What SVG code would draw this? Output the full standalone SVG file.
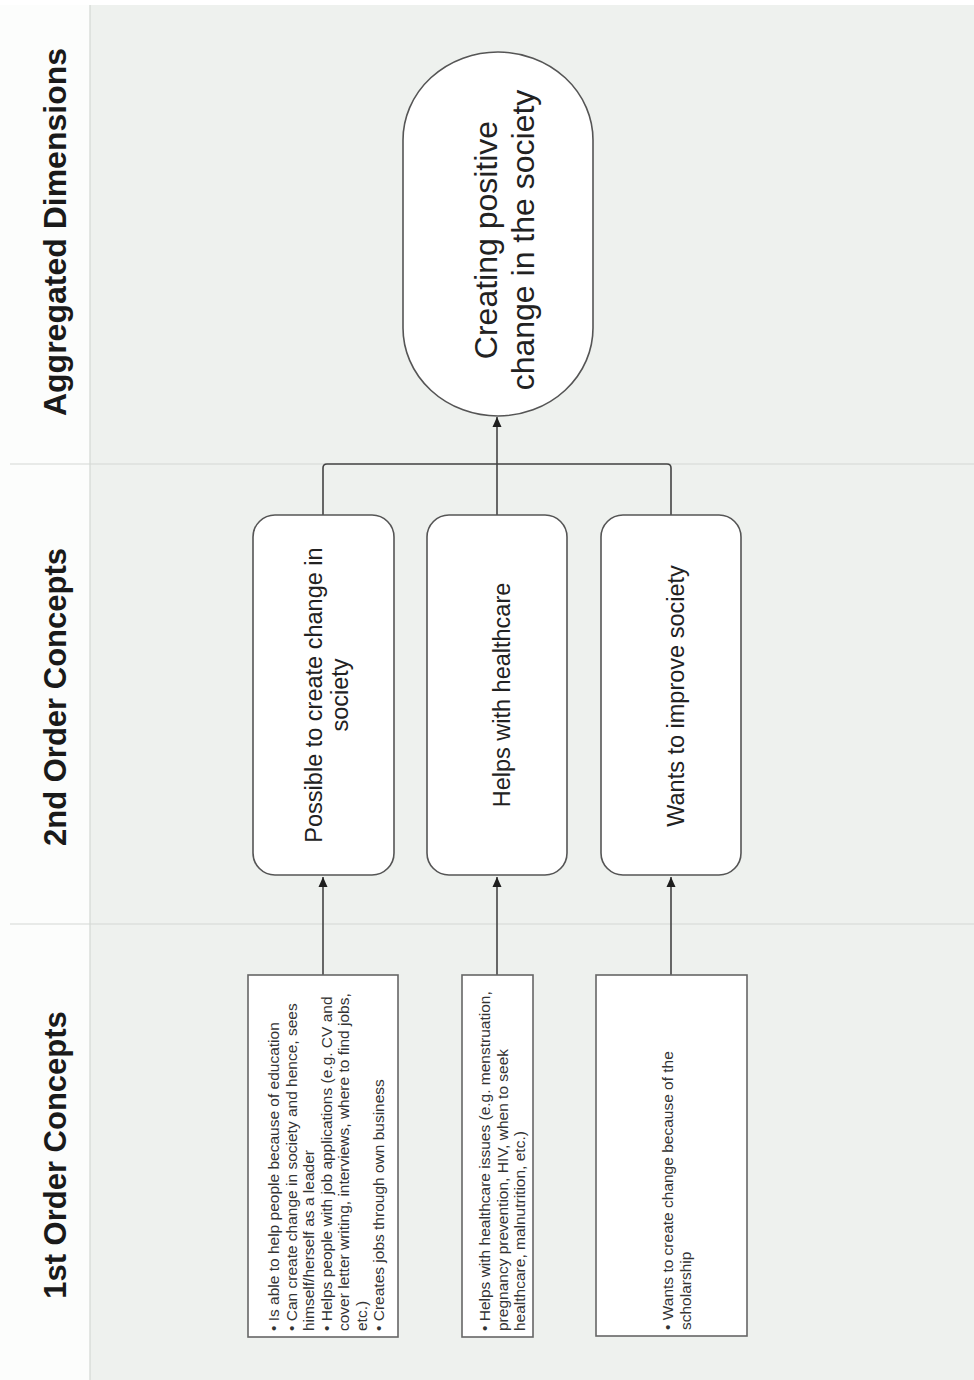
<svg xmlns="http://www.w3.org/2000/svg" width="974" height="1380" viewBox="0 0 974 1380">
  <style>
    .band { fill: #eef1ee; }
    .strip { fill: #fcfdfc; }
    .sep { stroke: #d3d8d3; stroke-width: 1.2; fill: none; }
    .head { font-family: "Liberation Sans", Arial, sans-serif; font-weight: bold; font-size: 31px; fill: #1a1a1a; }
    .big { font-family: "Liberation Sans", Arial, sans-serif; font-size: 32px; fill: #222; }
    .mid { font-family: "Liberation Sans", Arial, sans-serif; font-size: 23.5px; fill: #222; }
    .small { font-family: "Liberation Sans", Arial, sans-serif; font-size: 15.5px; fill: #333; }
    .rbox { fill: #ffffff; stroke: #555; stroke-width: 1.6; }
    .sbox { fill: #ffffff; stroke: #666; stroke-width: 1.6; }
    .edge { fill: none; stroke: #444; stroke-width: 1.6; }
  </style>
  <defs>
    <marker id="arrow" markerUnits="userSpaceOnUse" markerWidth="10" markerHeight="10" viewBox="0 0 10 10" refX="10" refY="5" orient="auto">
      <path d="M0,0.5 L10,5 L0,9.5 Z" fill="#1e1e1e"/>
    </marker>
  </defs>

  <!-- background bands -->
  <rect x="0" y="0" width="974" height="1380" fill="#ffffff"/>
  <rect class="strip" x="0" y="5" width="90" height="1375"/>
  <rect class="band" x="90" y="5" width="884" height="1375"/>
  <line class="sep" x1="90" y1="5" x2="90" y2="1380"/>
  <line class="sep" x1="10" y1="464" x2="974" y2="464"/>
  <line class="sep" x1="10" y1="924" x2="974" y2="924"/>

  <!-- column headings -->
  <g id="heading-aggregated">
    <text class="head" style="font-size:32px" transform="translate(66,232) rotate(-90)" text-anchor="middle">Aggregated Dimensions</text>
  </g>
  <g id="heading-second">
    <text class="head" transform="translate(66,697) rotate(-90)" text-anchor="middle">2nd Order Concepts</text>
  </g>
  <g id="heading-first">
    <text class="head" transform="translate(66,1155) rotate(-90)" text-anchor="middle">1st Order Concepts</text>
  </g>

  <!-- connectors -->
  <g id="connectors">
    <path class="edge" d="M323,975 V877" marker-end="url(#arrow)"/>
    <path class="edge" d="M497,975 V877" marker-end="url(#arrow)"/>
    <path class="edge" d="M671,975 V877" marker-end="url(#arrow)"/>
    <path class="edge" d="M323,515 V468 Q323,464 327,464 H667 Q671,464 671,468 V515"/>
    <path class="edge" d="M497,515 V417" marker-end="url(#arrow)"/>
  </g>

  <!-- aggregated dimension -->
  <g id="node-positive-change">
    <rect class="rbox" x="403" y="52" width="190" height="364" rx="95" ry="88"/>
    <text class="big" transform="translate(497,240) rotate(-90)" text-anchor="middle">Creating positive</text>
    <text class="big" transform="translate(534,240) rotate(-90)" text-anchor="middle">change in the society</text>
  </g>

  <!-- second order concepts -->
  <g id="node-possible-change">
    <rect class="rbox" x="253" y="515" width="141" height="360" rx="22" ry="22"/>
    <text class="mid" transform="translate(322,695) rotate(-90)" text-anchor="middle">Possible to create change in</text>
    <text class="mid" transform="translate(348,695) rotate(-90)" text-anchor="middle">society</text>
  </g>
  <g id="node-healthcare">
    <rect class="rbox" x="427" y="515" width="140" height="360" rx="22" ry="22"/>
    <text class="mid" transform="translate(510,695) rotate(-90)" text-anchor="middle">Helps with healthcare</text>
  </g>
  <g id="node-improve-society">
    <rect class="rbox" x="601" y="515" width="140" height="360" rx="22" ry="22"/>
    <text class="mid" transform="translate(684,696) rotate(-90)" text-anchor="middle">Wants to improve society</text>
  </g>

  <!-- first order concepts -->
  <g id="node-education-items">
    <rect class="sbox" x="248" y="975" width="150" height="362"/>
    <g transform="translate(0,1331) rotate(-90)">
      <text class="small" x="0" y="279">• Is able to help people because of education</text>
      <text class="small" x="0" y="296.5">• Can create change in society and hence, sees</text>
      <text class="small" x="0" y="314">himself/herself as a leader</text>
      <text class="small" x="0" y="331.5">• Helps people with job applications (e.g. CV and</text>
      <text class="small" x="0" y="349">cover letter writing, interviews, where to find jobs,</text>
      <text class="small" x="0" y="366.5">etc.)</text>
      <text class="small" x="0" y="384">• Creates jobs through own business</text>
    </g>
  </g>
  <g id="node-healthcare-items">
    <rect class="sbox" x="462" y="975" width="71" height="362"/>
    <g transform="translate(0,1331) rotate(-90)">
      <text class="small" x="0" y="490">• Helps with healthcare issues (e.g. menstruation,</text>
      <text class="small" x="0" y="507.5">pregnancy prevention, HIV, when to seek</text>
      <text class="small" x="0" y="525">healthcare, malnutrition, etc.)</text>
    </g>
  </g>
  <g id="node-scholarship-items">
    <rect class="sbox" x="596" y="975" width="151" height="361"/>
    <g transform="translate(0,1330) rotate(-90)">
      <text class="small" x="0" y="673">• Wants to create change because of the</text>
      <text class="small" x="0" y="690.5">scholarship</text>
    </g>
  </g>
</svg>
